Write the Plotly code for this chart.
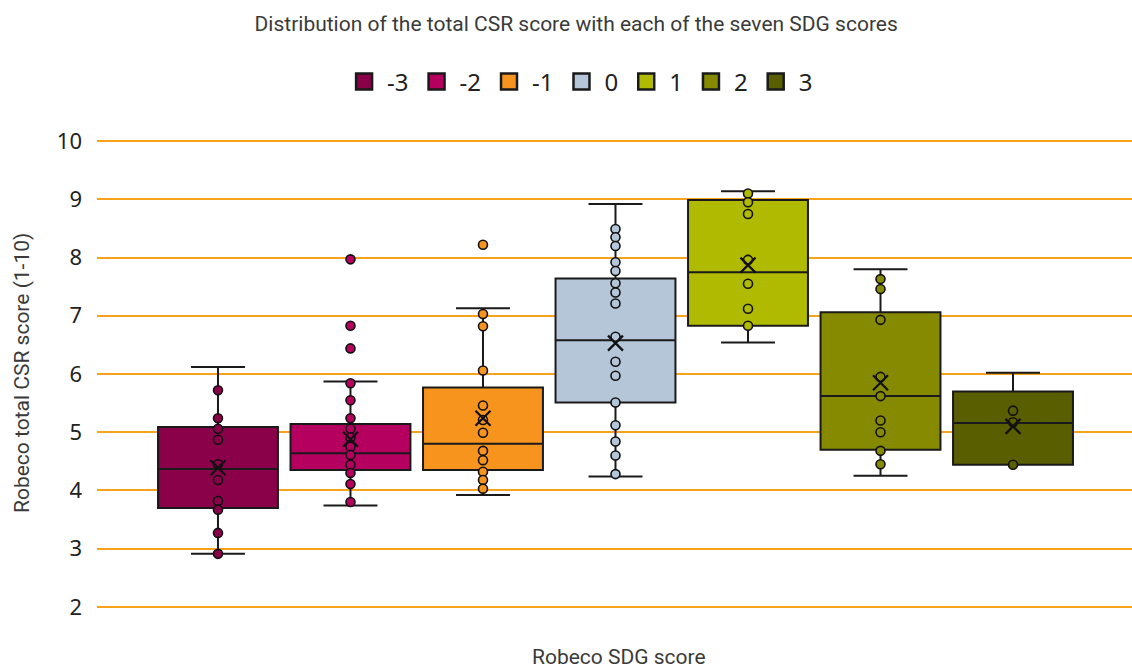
import plotly.graph_objects as go

categories = ["-3", "-2", "-1", "0", "1", "2", "3"]
colors = ["#8A0049", "#B5005F", "#F7941D", "#B4C6D8", "#AFBA00", "#868A00", "#595E00"]

q1 = [3.70, 4.35, 4.35, 5.51, 6.83, 4.70, 4.44]
median = [4.37, 4.64, 4.80, 6.58, 7.75, 5.62, 5.16]
q3 = [5.09, 5.14, 5.77, 7.64, 8.99, 7.06, 5.70]
lowerfence = [2.91, 3.74, 3.92, 4.24, 6.54, 4.25, 4.44]
upperfence = [6.12, 5.87, 7.13, 8.92, 9.14, 7.80, 6.02]
means = [4.39, 4.88, 5.24, 6.53, 7.87, 5.85, 5.10]

points = [
    [5.72, 5.24, 5.06, 4.87, 4.45, 4.18, 3.82, 3.67, 3.27, 2.91],
    [7.97, 6.83, 6.44, 5.84, 5.55, 5.24, 5.06, 4.91, 4.75, 4.61, 4.44, 4.30, 4.11, 3.80],
    [8.22, 7.03, 6.82, 6.06, 5.46, 5.21, 4.99, 4.68, 4.52, 4.32, 4.18, 4.03],
    [8.49, 8.35, 8.20, 7.92, 7.77, 7.56, 7.40, 7.21, 6.64, 6.21, 5.97, 5.51, 5.12, 4.84, 4.60, 4.28],
    [9.10, 8.95, 8.75, 7.96, 7.55, 7.12, 6.83],
    [7.63, 7.46, 6.93, 5.95, 5.62, 5.20, 5.00, 4.68, 4.45],
    [5.37, 5.17, 4.44],
]

y_ticks = [2, 3, 4, 5, 6, 7, 8, 9, 10]

fig = go.Figure()
for i, cat in enumerate(categories):
    fig.add_trace(go.Box(
        x=[i], q1=[q1[i]], median=[median[i]], q3=[q3[i]],
        lowerfence=[lowerfence[i]], upperfence=[upperfence[i]],
        name=cat, width=0.905, fillcolor=colors[i],
        line=dict(color="#1a1a1a", width=2), whiskerwidth=0.45,
        boxpoints=False, showlegend=False, legendgroup=cat,
    ))
for i, cat in enumerate(categories):
    fig.add_trace(go.Scatter(
        x=[i] * len(points[i]), y=points[i], mode="markers",
        marker=dict(size=9, color=colors[i], line=dict(color="#111", width=1.6)),
        showlegend=False, legendgroup=cat, hoverinfo="y",
    ))
    fig.add_trace(go.Scatter(
        x=[i], y=[means[i]], mode="markers",
        marker=dict(symbol="x-thin", size=15, line=dict(color="#111", width=2.2)),
        showlegend=False, legendgroup=cat,
    ))
# legend entries (square swatches)
for i, cat in enumerate(categories):
    fig.add_trace(go.Scatter(
        x=[None], y=[None], mode="markers", name=cat, legendgroup=cat,
        marker=dict(symbol="square", size=16, color=colors[i], line=dict(color="#1a1a1a", width=2.5)),
        showlegend=True,
    ))

pw = 1132 - 97
ph = 668 - 140 - 60

fig.update_layout(
    width=1132, height=668,
    margin=dict(l=97, r=0, t=140, b=60),
    paper_bgcolor="white", plot_bgcolor="white",
    title=dict(text="Distribution of the total CSR score with each of the seven SDG scores",
               x=0.509, xref="container", xanchor="center", y=1 - 24 / 668, yref="container",
               yanchor="middle", font=dict(family="Roboto", size=21, color="#3a3a3a")),
    legend=dict(orientation="h", x=0.512, xref="container", xanchor="center",
                y=1 - 82 / 668, yref="container", yanchor="middle",
                font=dict(family="Noto Sans", size=24, color="#222"),
                itemwidth=36, traceorder="normal"),
    xaxis=dict(range=[-0.913, 6.898], showticklabels=False, showgrid=False,
               zeroline=False, showline=False, ticks=""),
    yaxis=dict(range=[1.98, 10.02], tickvals=y_ticks, showgrid=True,
               gridcolor="#F7A21B", gridwidth=2, zeroline=False, showline=False,
               tickfont=dict(family="Noto Sans", size=22, color="#222"),
               ticklabelstandoff=14),
    annotations=[
        dict(text="Robeco SDG score", x=(619 - 97) / pw, y=(668 - 60 - 657) / ph,
             xref="paper", yref="paper", showarrow=False, xanchor="center", yanchor="middle",
             font=dict(family="Roboto", size=21, color="#3a3a3a")),
        dict(text="Robeco total CSR score (1-10)", x=(22 - 97) / pw, y=(668 - 60 - 373) / ph,
             xref="paper", yref="paper", showarrow=False, textangle=-90,
             xanchor="center", yanchor="middle",
             font=dict(family="Roboto", size=21, color="#3a3a3a")),
    ],
)

fig.write_html("out.html")
